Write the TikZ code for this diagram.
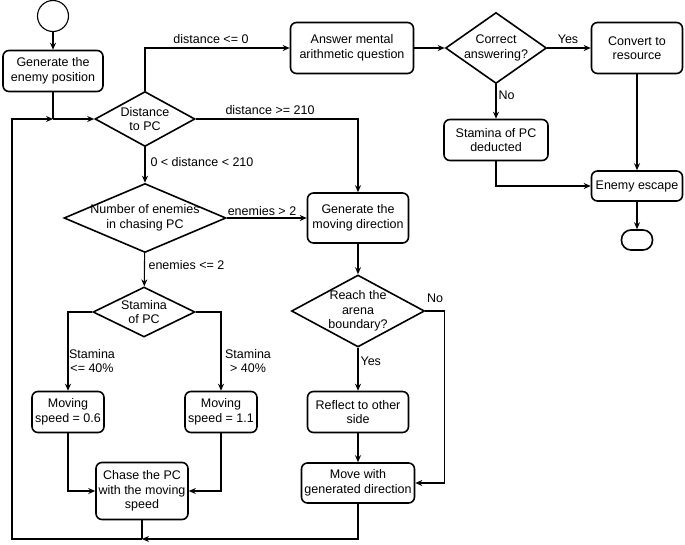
\documentclass[tikz,border=0pt]{standalone}
\usepackage{fontspec}
\setmainfont{Liberation Sans}
\usetikzlibrary{shapes.geometric,arrows.meta}
\begin{document}
\begin{tikzpicture}[x=1pt,y=-1pt,>={Stealth[length=7pt,width=6pt]},font=\fontsize{12.5}{14.5}\selectfont,line width=1.1pt]
  \tikzset{box/.style={draw, line width=1.6pt, rounded corners=6pt, align=center, inner sep=1.5pt},
           dia/.style={draw, diamond, line width=1.6pt, inner sep=0pt},
           dtext/.style={align=center, inner sep=0pt},
           cond/.style={align=center, inner sep=1pt}}
  \useasboundingbox (0,0) rectangle (685,544);
  % enemy placement and distance check
  \node[draw, circle, minimum size=31pt, inner sep=0pt] (start) at (53,16) {};
  \node[box, minimum width=100pt, minimum height=41pt] (gen) at (53,71) {Generate the\\enemy position};
  \node[dia, minimum width=100pt, minimum height=55pt] (dist) at (145,119) {};
  \node[dtext] (distT) at (dist) {Distance\\to PC};
  % question branch
  \node[box, minimum width=123pt, minimum height=51pt] (ans) at (352,48) {Answer mental\\arithmetic question};
  \node[dia, minimum width=101pt, minimum height=71pt] (corr) at (496,48) {};
  \node[dtext] (corrT) at (corr) {Correct\\answering?};
  \node[box, minimum width=91pt, minimum height=51pt] (conv) at (637,48) {Convert to\\resource};
  \node[box, minimum width=104pt, minimum height=41pt] (ded) at (496,140) {Stamina of PC\\deducted};
  \node[box, minimum width=91pt, minimum height=30pt] (esc) at (637,186) {Enemy escape};
  \node[draw, line width=1.6pt, rounded corners=9.5pt, minimum width=31pt, minimum height=20pt, inner sep=0pt] (stop) at (637,240) {};
  % chasing branch
  \node[dia, minimum width=162pt, minimum height=69pt] (num) at (145,218) {};
  \node[dtext] (numT) at (num) {Number of enemies\\in chasing PC};
  \node[dia, minimum width=102pt, minimum height=50pt] (stam) at (144,312) {};
  \node[dtext] (stamT) at (stam) {Stamina\\of PC};
  \node[box, minimum width=72pt, minimum height=41pt] (slow) at (68,412) {Moving\\speed = 0.6};
  \node[box, minimum width=72pt, minimum height=41pt] (fast) at (221,412) {Moving\\speed = 1.1};
  \node[box, minimum width=92pt, minimum height=57pt] (chase) at (142,491) {Chase the PC\\with the moving\\speed};
  % wandering branch
  \node[box, minimum width=101pt, minimum height=50pt] (dir) at (358,218) {Generate the\\moving direction};
  \node[dia, minimum width=133pt, minimum height=72pt] (reach) at (358,311) {};
  \node[dtext] (reachT) at (reach) {Reach the\\arena\\boundary?};
  \node[box, minimum width=101pt, minimum height=41pt] (refl) at (358,412) {Reflect to other\\side};
  \node[box, minimum width=113pt, minimum height=40pt] (move) at (358,483) {Move with\\generated direction};
  % junctions of the loop
  \coordinate (jin) at (gen.south |- dist.west);
  \coordinate (jout) at (chase.south |- 0,539);
  \coordinate (lcorner) at (12,539);
  % connectors
  \draw[->] (start) -- (gen);
  \draw (gen) -- (jin);
  \draw[->] (jin) -- (dist);
  \draw[->] (dist.north) |- (ans);
  \draw[->] (dist.east) -| (dir);
  \draw[->] (dist) -- (num);
  \draw[->] (num) -- (dir);
  \draw[->] (num) -- (stam);
  \draw[->] (stam.west) -| (slow);
  \draw[->] (stam.east) -| (fast);
  \draw[->] (slow) |- (chase);
  \draw[->] (fast) |- (chase);
  \draw (chase) -- (jout);
  \draw[->] (move) |- (jout);
  \draw[->] (jout) -- (lcorner) |- (jin);
  \draw[->] (dir) -- (reach);
  \draw[->] (reach) -- (refl);
  \draw[->] (refl) -- (move);
  \draw[->] (reach.east) -- ++(19,0) |- (move);
  \draw[->] (ans) -- (corr);
  \draw[->] (corr) -- (conv);
  \draw[->] (corr) -- (ded);
  \draw[->] (ded) |- (esc);
  \draw[->] (conv) -- (esc);
  \draw[->] (esc) -- (stop);
  % conditions
  \node[cond] (lle0) at (211,39) {distance <= 0};
  \node[cond] (lge) at (270,110) {distance >= 210};
  \node[cond, anchor=west] (lmid) at (149,162) {0 < distance < 210};
  \node[cond] (lgt2) at (262,211) {enemies > 2};
  \node[cond, anchor=west] (lle2) at (147,265) {enemies <= 2};
  \node[cond] (lyes1) at (568,39) {Yes};
  \node[cond, anchor=west] (lno1) at (497,95) {No};
  \node[cond] (lno2) at (435,298) {No};
  \node[cond, anchor=west] (lyes2) at (359,361) {Yes};
  \node[cond] (llo) at (92,361) {Stamina\\<= 40\%};
  \node[cond] (lhi) at (248,361) {Stamina\\> 40\%};
\end{tikzpicture}
\end{document}
